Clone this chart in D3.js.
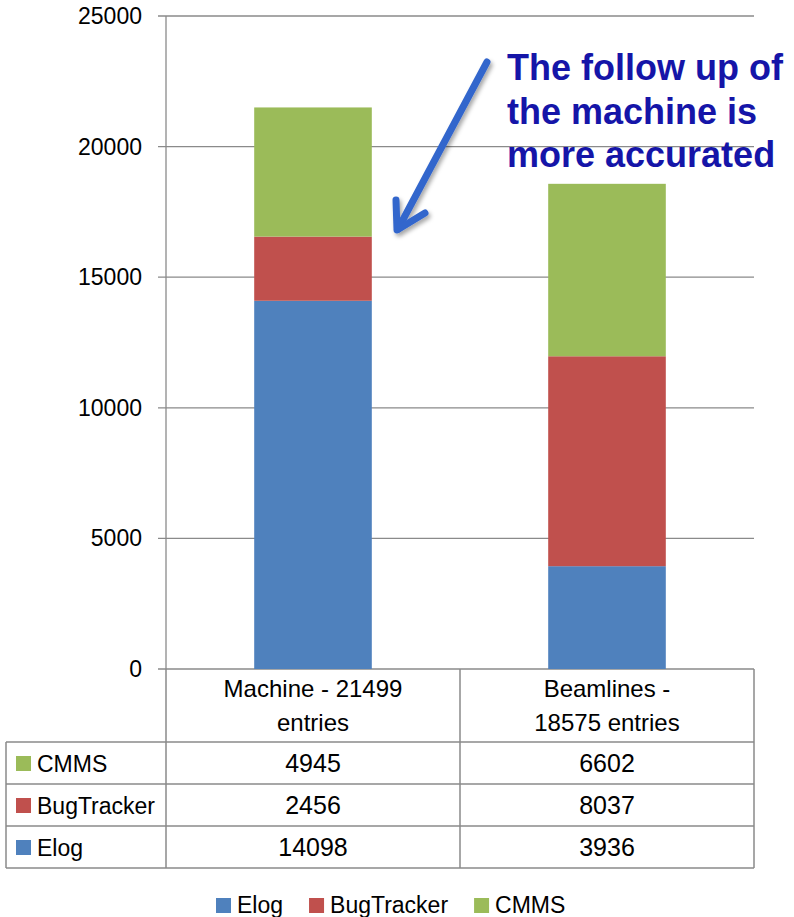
<!DOCTYPE html>
<html>
<head>
<meta charset="utf-8">
<script src="https://cdn.jsdelivr.net/npm/d3@7"></script>
<style>
  body { margin: 0; background: #fff; }
  svg text { font-family: "Liberation Sans", Arial, sans-serif; }
</style>
</head>
<body>
<script>
// données
const categories = ["Machine", "Beamlines"];
const categoryLabels = [["Machine - 21499", "entries"], ["Beamlines -", "18575 entries"]];
const series = ["Elog", "BugTracker", "CMMS"];
const elog = [14098, 3936];
const bugTracker = [2456, 8037];
const cmms = [4945, 6602];
const yTicks = [0, 5000, 10000, 15000, 20000, 25000];
const tableRows = ["CMMS", "BugTracker", "Elog"];
const annotation = ["The follow up of", "the machine is", "more accurated"];

const colors = { Elog: "#4f81bd", BugTracker: "#c0504d", CMMS: "#9bbb59" };
const values = { Elog: elog, BugTracker: bugTracker, CMMS: cmms };

const W = 794, H = 917;
const plot = { left: 166, right: 754, top: 16, bottom: 669 };
const gridColor = "#8a8a8a";

const svg = d3.select("body").append("svg").attr("width", W).attr("height", H);

const x = d3.scaleBand().domain(categories).range([plot.left, plot.right]).paddingInner(0).paddingOuter(0);
const barW = x.bandwidth() * 0.4;
const y = d3.scaleLinear().domain([0, 25000]).range([plot.bottom, plot.top]);

// grille
svg.append("g").selectAll("line").data(yTicks).join("line")
  .attr("x1", plot.left - 8).attr("x2", plot.right)
  .attr("y1", d => y(d)).attr("y2", d => y(d))
  .attr("stroke", gridColor).attr("stroke-width", 1.3);

// barres empilées
const rows = categories.map((c, i) => {
  const r = { cat: c };
  series.forEach(s => r[s] = values[s][i]);
  return r;
});
const stack = d3.stack().keys(series)(rows);

svg.append("g").selectAll("g").data(stack).join("g")
  .attr("fill", d => colors[d.key])
  .selectAll("rect").data(d => d).join("rect")
  .attr("x", d => x(d.data.cat) + (x.bandwidth() - barW) / 2)
  .attr("width", barW)
  .attr("y", d => y(d[1]))
  .attr("height", d => y(d[0]) - y(d[1]));

// axe Y
svg.append("line")
  .attr("x1", plot.left).attr("x2", plot.left)
  .attr("y1", plot.top).attr("y2", plot.bottom)
  .attr("stroke", gridColor).attr("stroke-width", 1.3);

svg.append("g").selectAll("text").data(yTicks).join("text")
  .attr("x", plot.left - 24).attr("y", d => y(d) + 8)
  .attr("text-anchor", "end")
  .attr("font-size", 23)
  .attr("fill", "#000")
  .text(d => d);

// tableau de données
const headerBottom = 742, rowH = 42;
const tableLeft = 6;
const tbl = svg.append("g").attr("stroke", gridColor).attr("stroke-width", 1.5).attr("fill", "none");
// lignes verticales de l'en-tête
[plot.left, x("Beamlines"), plot.right].forEach(xx => {
  tbl.append("line").attr("x1", xx).attr("x2", xx).attr("y1", plot.bottom).attr("y2", headerBottom + rowH * 3);
});
tbl.append("line").attr("x1", tableLeft).attr("x2", tableLeft).attr("y1", headerBottom).attr("y2", headerBottom + rowH * 3);
d3.range(4).forEach(i => {
  tbl.append("line").attr("x1", tableLeft).attr("x2", plot.right)
    .attr("y1", headerBottom + i * rowH).attr("y2", headerBottom + i * rowH);
});

// en-têtes de catégories
categories.forEach((c, i) => {
  const t = svg.append("text")
    .attr("x", x(c) + x.bandwidth() / 2)
    .attr("text-anchor", "middle")
    .attr("font-size", 24);
  categoryLabels[i].forEach((l, j) => {
    t.append("tspan").attr("x", x(c) + x.bandwidth() / 2).attr("y", 697 + j * 34).text(l);
  });
});

// lignes du tableau
tableRows.forEach((s, i) => {
  const yy = headerBottom + i * rowH;
  svg.append("rect").attr("x", 16).attr("y", yy + 14).attr("width", 15).attr("height", 15).attr("fill", colors[s]);
  svg.append("text").attr("x", 37).attr("y", yy + 30).attr("font-size", 23).text(s);
  categories.forEach((c, k) => {
    svg.append("text")
      .attr("x", x(c) + x.bandwidth() / 2).attr("y", yy + 30)
      .attr("text-anchor", "middle").attr("font-size", 25)
      .text(values[s][k]);
  });
});

// légende
const legend = svg.append("g");
let lx = 216;
series.forEach(s => {
  legend.append("rect").attr("x", lx).attr("y", 898).attr("width", 15).attr("height", 15).attr("fill", colors[s]);
  const t = legend.append("text").attr("x", lx + 21).attr("y", 913).attr("font-size", 23).text(s);
  lx += 21 + t.node().getComputedTextLength() + 26;
});

// annotation
const ann = svg.append("text")
  .attr("font-size", 36).attr("font-weight", "bold").attr("fill", "#1515a8");
annotation.forEach((l, i) => {
  ann.append("tspan").attr("x", 507).attr("y", 80 + i * 43.5).text(l);
});

// flèche
const defs = svg.append("defs");
defs.append("filter").attr("id", "shadow")
  .append("feDropShadow").attr("dx", 2).attr("dy", 3).attr("stdDeviation", 2).attr("flood-opacity", 0.35);
const arrow = svg.append("g").attr("filter", "url(#shadow)")
  .attr("stroke", "#3366cc").attr("stroke-width", 7).attr("fill", "none")
  .attr("stroke-linecap", "round").attr("stroke-linejoin", "round");
arrow.append("line").attr("x1", 487).attr("y1", 62).attr("x2", 398).attr("y2", 229);
arrow.append("polyline").attr("points", "396,200 397,230 425,213");
</script>
</body>
</html>
